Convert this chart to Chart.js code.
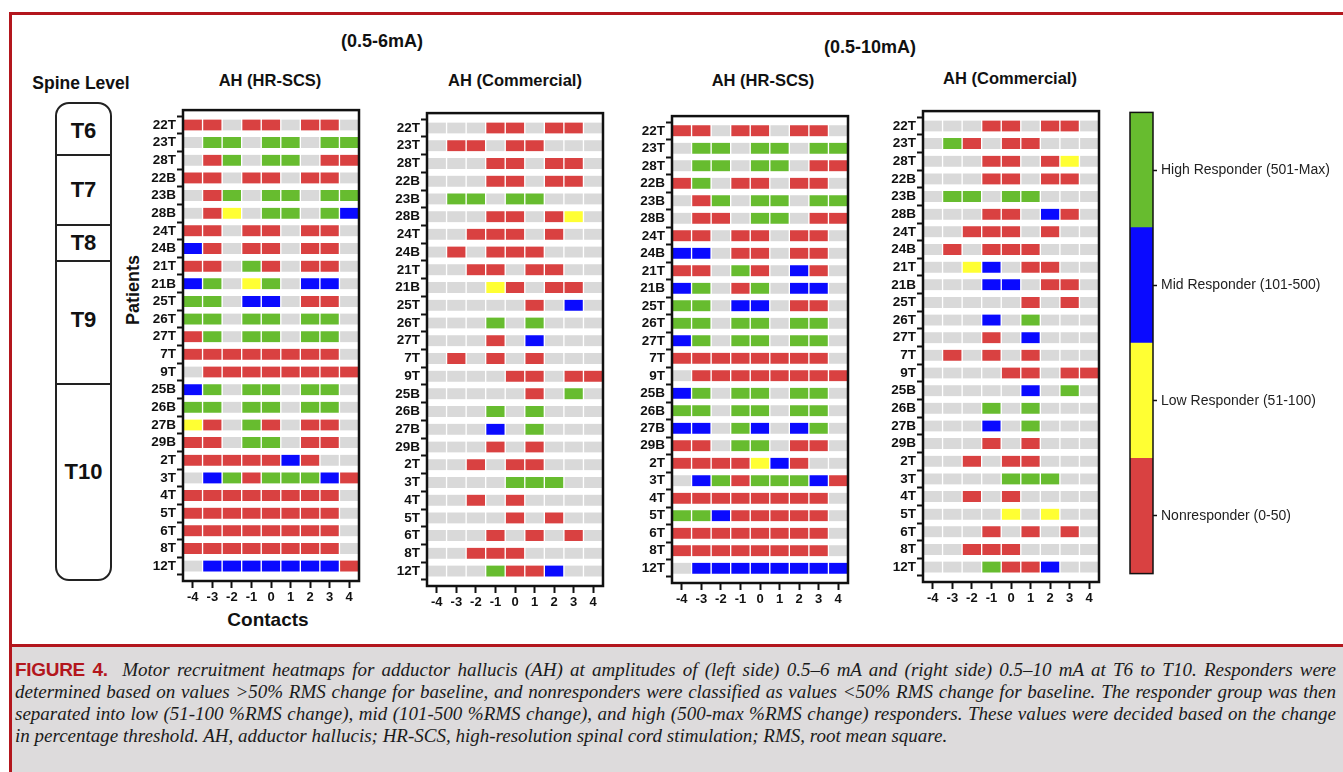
<!DOCTYPE html>
<html>
<head>
<meta charset="utf-8">
<script src="https://cdn.jsdelivr.net/npm/chart.js@4.4.0/dist/chart.umd.min.js"></script>
<style>
body{margin:0;width:1343px;height:772px;position:relative;background:#fff;overflow:hidden;font-family:"Liberation Sans",Arial,sans-serif;}
.t{position:absolute;transform:translate(-50%,-50%);white-space:nowrap;font-weight:bold;color:#111;}
canvas{position:absolute;}
#frame{position:absolute;left:9px;top:12px;width:1340px;height:760px;border-left:3px solid #b3161d;border-top:3px solid #b3161d;}
#sep{position:absolute;left:9px;top:644px;width:1340px;height:3px;background:#b3161d;}
#cap{position:absolute;left:12px;top:647px;width:1331px;height:125px;background:#dddbdc;}
.cl{position:absolute;left:3px;width:1321px;height:22px;line-height:22px;font-family:"Liberation Serif","Times New Roman",serif;font-style:italic;font-size:19px;color:#1a1a1a;white-space:nowrap;}
.j{text-align:justify;text-align-last:justify;}
.fig{font-family:"Liberation Sans Narrow","Liberation Sans",Arial,sans-serif;font-style:normal;font-weight:bold;color:#b3161d;font-size:19px;letter-spacing:-0.3px;}
#spine{position:absolute;left:55px;top:102px;width:53px;height:475px;border:2px solid #222;border-radius:14px;}
.div{position:absolute;left:0;width:100%;height:0;border-top:2px solid #222;}
.lv{position:absolute;left:50%;transform:translate(-50%,-50%);font-weight:bold;font-size:22px;color:#111;}
</style>
</head>
<body>
<div id="frame"></div>
<div id="sep"></div>

<div class="t" style="left:382px;top:41px;font-size:18px;">(0.5-6mA)</div>
<div class="t" style="left:870px;top:47px;font-size:18px;">(0.5-10mA)</div>
<div class="t" style="left:270px;top:80px;font-size:16.5px;">AH (HR-SCS)</div>
<div class="t" style="left:515px;top:80px;font-size:16.5px;">AH (Commercial)</div>
<div class="t" style="left:763px;top:80px;font-size:16.5px;">AH (HR-SCS)</div>
<div class="t" style="left:1010px;top:78px;font-size:16.5px;">AH (Commercial)</div>
<div class="t" style="left:81px;top:83px;font-size:17.5px;">Spine Level</div>
<div class="t" style="left:133px;top:290px;font-size:18px;transform:translate(-50%,-50%) rotate(-90deg);">Patients</div>
<div class="t" style="left:268px;top:620px;font-size:19px;">Contacts</div>

<div id="spine">
  <div class="div" style="top:50px"></div>
  <div class="div" style="top:120px"></div>
  <div class="div" style="top:156px"></div>
  <div class="div" style="top:279px"></div>
  <div class="lv" style="top:27px">T6</div>
  <div class="lv" style="top:86px">T7</div>
  <div class="lv" style="top:139px">T8</div>
  <div class="lv" style="top:216px">T9</div>
  <div class="lv" style="top:368px">T10</div>
</div>

<canvas id="c1"></canvas>
<canvas id="c2"></canvas>
<canvas id="c3"></canvas>
<canvas id="c4"></canvas>
<canvas id="cbar"></canvas>

<div id="cap">
  <div class="cl j" style="top:12px"><span class="fig">FIGURE 4.</span>&nbsp; Motor recruitment heatmaps for adductor hallucis (AH) at amplitudes of (left side) 0.5–6 mA and (right side) 0.5–10 mA at T6 to T10. Responders were</div>
  <div class="cl j" style="top:34px">determined based on values &gt;50% RMS change for baseline, and nonresponders were classified as values &lt;50% RMS change for baseline. The responder group was then</div>
  <div class="cl j" style="top:56px">separated into low (51-100 %RMS change), mid (101-500 %RMS change), and high (500-max %RMS change) responders. These values were decided based on the change</div>
  <div class="cl" style="top:78px">in percentage threshold. AH, adductor hallucis; HR-SCS, high-resolution spinal cord stimulation; RMS, root mean square.</div>
</div>

<script>
var patients = ['22T','23T','28T','22B','23B','28B','24T','24B','21T','21B','25T','26T','27T',
                '7T','9T','25B','26B','27B','29B','2T','3T','4T','5T','6T','8T','12T'];
var contacts = [-4, -3, -2, -1, 0, 1, 2, 3, 4];
var responseLevels = ['Nonresponder (0-50)', 'Low Responder (51-100)', 'Mid Responder (101-500)', 'High Responder (501-Max)'];

// one string per patient, one letter per contact (-4..4)
// . = no response, R = nonresponder, Y = low, B = mid, G = high
var hrscs6 = [
  'RR.RR.RR.', '.GG.GG.GG', '.RG.GG.RR', 'RR.RR.RR.', '.RG.GG.GG', '.RY.GG.GB',
  'RR.RR.RR.', 'BR.RR.RR.', 'RR.GR.RR.', 'BG.YG.BB.', 'GG.BB.RR.', 'GG.GG.GG.',
  'RG.GG.GG.', 'RRRRRRRR.', '.RRRRRRRR', 'BG.GG.GG.', 'GG.GG.GG.', 'YR.GR.RR.',
  'RR.GG.RR.', 'RRRRRBR..', '.BGRGGGBR', 'RRRRRRRR.', 'RRRRRRRR.', 'RRRRRRRR.',
  'RRRRRRRR.', '.BBBBBBBR'
];
var commercial6 = [
  '...RR.RR.', '.RR.RR...', '...RR.RR.', '...RR.RR.', '.GG.GG...', '...RR.RY.',
  '..RRR.R..', '.R.RRR...', '..RR.RR..', '...YR.RR.', '.....R.B.', '...G.G...',
  '...R.B...', '.R.R.R...', '....RR.RR', '.....R.G.', '...G.G...', '...B.G...',
  '...R.R...', '..R.RR...', '....GGG..', '..R.R....', '....R.R..', '...R.R.R.',
  '..RRR....', '...GRRB..'
];
var hrscs10 = [
  'RR.RR.RR.', '.GG.GG.GG', '.GG.GG.RR', 'RG.RR.RR.', '.RG.GG.GG', '.RR.GG.RR',
  'RR.RR.RR.', 'BB.RR.RR.', 'RR.GR.BR.', 'BG.RG.BB.', 'GG.BB.RR.', 'GG.GG.GG.',
  'BG.GG.GG.', 'RRRRRRRR.', '.RRRRRRRR', 'BG.GG.GG.', 'GG.GG.GG.', 'BB.GB.BG.',
  'RR.GG.RR.', 'RRRRYBR..', '.BGRGGGBR', 'RRRRRRRR.', 'GGBRRRRR.', 'RRRRRRRR.',
  'RRRRRRRR.', '.BBBBBBBB'
];
var commercial10 = [
  '...RR.RR.', '.GR.RR...', '...RR.RY.', '...RR.RR.', '.GG.GG...', '...RR.BR.',
  '..RRR.R..', '.R.RRR...', '..YB.RR..', '...BB.RR.', '.....R.R.', '...B.G...',
  '...R.B...', '.R.R.R...', '....RR.RR', '.....B.G.', '...G.G...', '...B.G...',
  '...R.R...', '..R.RR...', '....GGG..', '..R.R....', '....Y.Y..', '...R.R.R.',
  '..RRR....', '...GRRB..'
];

var cellColors = {'.': '#d9d9d9', R: '#d94141', Y: '#ffff33', B: '#0a0aff', G: '#67bc2f'};
var levelColors = ['#d94141', '#ffff33', '#0a0aff', '#67bc2f'];

Chart.defaults.font.family = '"Liberation Sans", Arial, sans-serif';
Chart.defaults.color = '#111';

// black box round the plot area
var frameBox = {
  id: 'frameBox',
  afterDraw: function(chart, args, opts) {
    var a = chart.chartArea, ctx = chart.ctx;
    ctx.save();
    ctx.lineWidth = opts.width || 2.5;
    ctx.strokeStyle = '#111';
    ctx.strokeRect(a.left, a.top, a.right - a.left, a.bottom - a.top);
    ctx.restore();
  }
};

function place(cv, left, top, w, h) {
  cv.width = w; cv.height = h;
  cv.style.left = left + 'px'; cv.style.top = top + 'px';
  cv.style.width = w + 'px'; cv.style.height = h + 'px';
}

function heatmap(id, rows, box) {
  var cv = document.getElementById(id);
  place(cv, box.l - 42, box.t - 4, 42 + box.r - box.l + 6, 4 + box.b - box.t + 32);

  var datasets = contacts.map(function(c, j) {
    return {
      data: rows.map(function(row, i) { return {x: [c - 0.5, c + 0.5], y: i}; }),
      backgroundColor: rows.map(function(row) { return cellColors[row[j]]; }),
      borderColor: 'rgba(255,255,255,0.5)',
      borderWidth: {left: 1, right: 1, top: 0, bottom: 0},
      borderSkipped: false,
      barThickness: 11,
      grouped: false
    };
  });

  new Chart(cv, {
    type: 'bar',
    data: {datasets: datasets},
    plugins: [frameBox],
    options: {
      indexAxis: 'y',
      responsive: false,
      animation: false,
      layout: {padding: {top: 4, right: 6, left: 0, bottom: 0}},
      plugins: {legend: {display: false}, tooltip: {enabled: false}, frameBox: {width: 2.5}},
      scales: {
        x: {
          type: 'linear', min: -4.5, max: 4.5,
          afterBuildTicks: function(s) { s.ticks = contacts.map(function(v) { return {value: v}; }); },
          afterFit: function(s) { s.height = 32; },
          grid: {drawOnChartArea: false, drawTicks: true, tickLength: 7, tickWidth: 2, tickColor: '#111'},
          border: {display: false},
          ticks: {font: {size: 13, weight: 'bold'}, padding: 2, maxRotation: 0, autoSkip: false}
        },
        y: {
          type: 'linear', reverse: true, min: -0.33, max: patients.length - 1 + 0.33,
          afterBuildTicks: function(s) { s.ticks = patients.map(function(p, i) { return {value: i}; }); },
          afterFit: function(s) { s.width = 42; },
          grid: {drawOnChartArea: false, drawTicks: true, tickLength: 6, tickWidth: 2, tickColor: '#111'},
          border: {display: false},
          ticks: {font: {size: 13.5, weight: 'bold'}, padding: 1, autoSkip: false,
                  callback: function(v) { return patients[v]; }}
        }
      }
    }
  });
}

heatmap('c1', hrscs6,       {l: 183, r: 359, t: 105, b: 581});
heatmap('c2', commercial6,  {l: 427, r: 603, t: 108, b: 586});
heatmap('c3', hrscs10,      {l: 672, r: 848, t: 111, b: 583});
heatmap('c4', commercial10, {l: 923, r: 1099, t: 106, b: 582});

// colour bar
var cb = document.getElementById('cbar');
place(cb, 1126, 100, 215, 486);
new Chart(cb, {
  type: 'bar',
  data: {
    labels: [''],
    datasets: responseLevels.map(function(lab, k) {
      return {label: lab, data: [1], backgroundColor: levelColors[k],
              barPercentage: 1, categoryPercentage: 1, borderWidth: 0};
    })
  },
  plugins: [frameBox],
  options: {
    responsive: false,
    animation: false,
    layout: {padding: {top: 4, bottom: 4, left: 4, right: 0}},
    plugins: {legend: {display: false}, tooltip: {enabled: false}, frameBox: {width: 1.5}},
    scales: {
      x: {stacked: true, display: false},
      y: {
        stacked: true, position: 'right', min: 0, max: responseLevels.length,
        afterBuildTicks: function(s) { s.ticks = responseLevels.map(function(l, k) { return {value: k + 0.5}; }); },
        afterFit: function(s) { s.width = 188; },
        grid: {drawOnChartArea: false, drawTicks: true, tickLength: 4, tickWidth: 1.5, tickColor: '#111'},
        border: {display: false},
        ticks: {font: {size: 14}, color: '#222', padding: 4,
                callback: function(v) { return responseLevels[v - 0.5]; }}
      }
    }
  }
});
</script>
</body>
</html>
